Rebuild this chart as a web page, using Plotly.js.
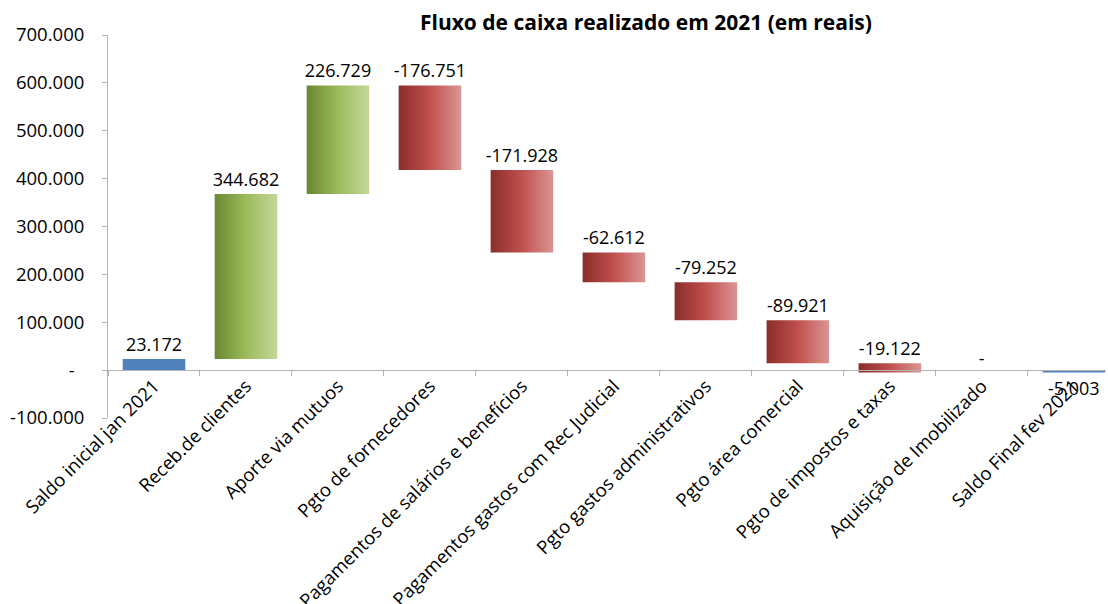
<!DOCTYPE html>
<html>
<head>
<meta charset="utf-8">
<script src="https://cdn.plot.ly/plotly-3.0.1.min.js"></script>
<style>html,body{margin:0;padding:0;background:#fff}#chart{width:1108px;height:604px}</style>
</head>
<body>
<div id="chart"></div>
<script>
// ---- data ----
const categories = [
  "Saldo inicial jan 2021",
  "Receb.de clientes",
  "Aporte via mutuos",
  "Pgto de fornecedores",
  "Pagamentos de salários e benefícios",
  "Pagamentos gastos com Rec Judicial",
  "Pgto gastos administrativos",
  "Pgto área comercial",
  "Pgto de impostos e taxas",
  "Aquisição de Imobilizado",
  "Saldo Final fev 2021"
];
const values = [23172, 344682, 226729, -176751, -171928, -62612, -79252, -89921, -19122, 0, -5003];
const kinds = ["total","inc","inc","dec","dec","dec","dec","dec","dec","dec","total"];
const yTickVals = [700000, 600000, 500000, 400000, 300000, 200000, 100000, 0, -100000];
const yTickText = ["700.000","600.000","500.000","400.000","300.000","200.000","100.000","-\u00a0\u00a0","-100.000"];
const title = "Fluxo de caixa realizado em 2021 (em reais)";

function fmt(v){
  if (v === 0) return "-";
  const s = Math.abs(v).toString().replace(/\B(?=(\d{3})+(?!\d))/g, ".");
  return (v < 0 ? "-" : "") + s;
}

// ---- waterfall geometry from data ----
let cum = 0;
const base = [], height = [], labels = [];
values.forEach((v, i) => {
  if (kinds[i] === "total") { base.push(0); height.push(v); cum = v; }
  else if (kinds[i] === "inc") { base.push(cum); height.push(v); cum += v; }
  else { cum += v; base.push(cum); height.push(-v); }
  labels.push(fmt(v));
});

function pick(kind){
  return {
    y: height.map((h, i) => kinds[i] === kind ? h : null),
    base: base.map((b, i) => kinds[i] === kind ? b : null),
    text: labels.map((t, i) => kinds[i] === kind ? t : "")
  };
}

const common = {
  type: "bar", x: categories, width: 0.68,
  textposition: "outside", cliponaxis: false, constraintext: "none",
  textfont: {family: "Open Sans, sans-serif", size: 18, color: "#000"},
  hoverinfo: "skip", showlegend: false
};
const tTot = pick("total"), tInc = pick("inc"), tDec = pick("dec");
const traces = [
  Object.assign({}, common, tTot, {marker: {color: "#4f81bd"}}),
  Object.assign({}, common, tInc, {marker: {color: "#9bbb59"}}),
  Object.assign({}, common, tDec, {marker: {color: "#c0504d"}})
];

const layout = {
  width: 1108, height: 604,
  margin: {l: 108, r: 2, t: 35, b: 186},
  paper_bgcolor: "#fff", plot_bgcolor: "#fff",
  barmode: "overlay",
  font: {family: "Open Sans, sans-serif", color: "#000"},
  title: {text: "<b>" + title + "</b>", font: {family: "Open Sans, sans-serif", size: 21, color: "#000"},
          x: 0.583, xanchor: "center", xref: "container", y: 0.962, yanchor: "middle", yref: "container"},
  xaxis: {
    type: "category", range: [-0.5, 10.35],
    anchor: "free", position: 0.125,
    showline: true, linecolor: "#b3b3b3", linewidth: 1,
    ticks: "outside", tickson: "boundaries", ticklen: 5, tickcolor: "#b3b3b3",
    ticklabelstandoff: -3,
    tickangle: -45, tickfont: {size: 18.5, color: "#000"},
    showgrid: false, zeroline: false
  },
  yaxis: {
    range: [-100000, 700000], domain: [0, 1],
    tickvals: yTickVals, ticktext: yTickText,
    showline: true, linecolor: "#b3b3b3", linewidth: 1,
    ticks: "outside", ticklen: 5, tickcolor: "#b3b3b3",
    ticklabelstandoff: 14,
    tickfont: {size: 18.5, color: "#000"},
    showgrid: false, zeroline: false
  }
};

const gd = document.getElementById("chart");
Plotly.newPlot(gd, traces, layout, {staticPlot: true}).then(() => {
  const NS = "http://www.w3.org/2000/svg";
  const defs = gd.querySelector("svg.main-svg defs");
  function grad(id, stops){
    const g = document.createElementNS(NS, "linearGradient");
    g.setAttribute("id", id);
    g.setAttribute("x1", "0"); g.setAttribute("y1", "0");
    g.setAttribute("x2", "1"); g.setAttribute("y2", "0");
    stops.forEach(([o, c]) => {
      const s = document.createElementNS(NS, "stop");
      s.setAttribute("offset", o); s.setAttribute("stop-color", c);
      g.appendChild(s);
    });
    defs.appendChild(g);
  }
  grad("gGreen", [["0", "#6a8832"], ["0.5", "#9bbb59"], ["1", "#c4d79b"]]);
  grad("gRed", [["0", "#8a2d2b"], ["0.5", "#c0504d"], ["1", "#da9694"]]);
  const tr = gd.querySelectorAll(".barlayer .trace");
  if (tr[1]) tr[1].querySelectorAll(".point path").forEach(p => p.style.fill = "url(#gGreen)");
  if (tr[2]) tr[2].querySelectorAll(".point path").forEach(p => p.style.fill = "url(#gRed)");
});
</script>
</body>
</html>
